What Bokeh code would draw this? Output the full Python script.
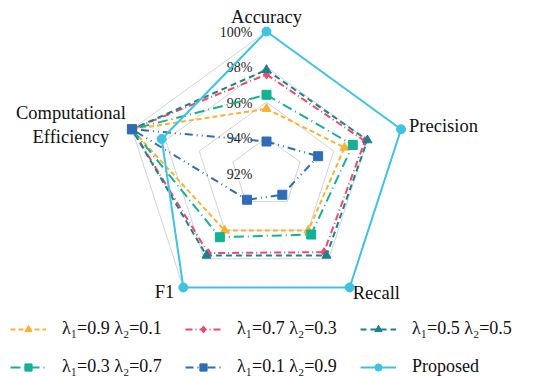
import numpy as np
from bokeh.plotting import figure
from bokeh.models import Range1d, Legend, LegendItem
from bokeh.core.properties import value
from bokeh.embed import file_html
from bokeh.resources import INLINE

# ---------------- data ----------------
categories = ["Accuracy", "Precision", "Recall", "F1", "Computational\nEfficiency"]
tick_values = [92, 94, 96, 98, 100]
tick_labels = ["92%", "94%", "96%", "98%", "100%"]

series_names = ["λ₁=0.9 λ₂=0.1", "λ₁=0.7 λ₂=0.3", "λ₁=0.5 λ₂=0.5",
                "λ₁=0.3 λ₂=0.7", "λ₁=0.1 λ₂=0.9", "Proposed"]
s_09 = [95.63, 96.64, 96.02, 96.02, 100.0]
s_07 = [97.57, 97.85, 97.53, 97.60, 100.0]
s_05 = [97.83, 98.00, 97.77, 97.77, 100.0]
s_03 = [96.42, 97.13, 96.30, 96.49, 100.0]
s_01 = [93.78, 95.07, 93.52, 93.87, 100.0]
s_prop = [100.0, 100.0, 100.0, 100.0, 98.23]
series_values = [s_09, s_07, s_05, s_03, s_01, s_prop]

# ---------------- styles ----------------
colors = ["#FBB234", "#EE4A6A", "#1B8191", "#15B195", "#2F6DB5", "#3EC3E1"]
dashes = ["5 3", "7 3 1 3", "6 4", "10 4 1 4", "8 4 1 4 1 4", "solid"]
markers = ["triangle", "diamond", "triangle", "square", "square", "circle"]
msizes = [9, 9, 9, 9, 9, 9]
FONT = "Liberation Serif"

W, H = 533, 377
cx, cy, R = 266, 172.5, 141.5
rmin, rmax = tick_values[0], tick_values[-1]

p = figure(width=W, height=H,
           x_range=Range1d(-cx / R, (W - cx) / R),
           y_range=Range1d(-(H - cy) / R, cy / R),
           x_axis_location=None, y_axis_location=None,
           output_backend="svg", toolbar_location=None, min_border=0)
p.grid.visible = False
p.outline_line_color = None
p.background_fill_color = "white"

n = len(categories)
ang = np.deg2rad(90 - 360.0 / n * np.arange(n))


def to_xy(vals, close=False):
    r = (np.asarray(vals, dtype=float) - rmin) / (rmax - rmin)
    x, y = r * np.cos(ang), r * np.sin(ang)
    if close:
        x, y = np.append(x, x[0]), np.append(y, y[0])
    return x, y


# grid rings
for t in tick_values[1:]:
    gx, gy = to_xy([t] * n, close=True)
    p.line(gx, gy, line_color="#D4D4D4", line_width=1)

# tick labels
p.text(x=[0] * len(tick_values),
       y=[(t - rmin) / (rmax - rmin) for t in tick_values],
       text=tick_labels, text_align="right", text_baseline="middle",
       x_offset=-14, y_offset=1,
       text_font=value(FONT), text_font_size="14px", text_color="#222222")

# category labels
lx, ly = to_xy([rmax] * n)
lab_style = [  # (align, baseline, x_offset, y_offset)
    ("center", "alphabetic", 0, -15),
    ("left", "middle", 8, -3),
    ("left", "middle", 3, 6),
    ("right", "middle", -9, 5),
    ("center", "middle", -61, -4),
]
for i, cat in enumerate(categories):
    a, b, xo, yo = lab_style[i]
    p.text(x=[lx[i]], y=[ly[i]], text=[cat], text_align=a, text_baseline=b,
           x_offset=xo, y_offset=yo, text_line_height=1.22,
           text_font=value(FONT), text_font_size="18.5px", text_color="#111111")

# series
items = []
for name, vals, c, d, m, s in zip(series_names, series_values, colors, dashes, markers, msizes):
    x, y = to_xy(vals, close=True)
    lr = p.line(x, y, line_color=c, line_width=2, line_dash=d)
    mx, my = to_xy(vals)
    sr = p.scatter(mx, my, marker=m, size=s, fill_color=c, line_color=c)
    items.append(LegendItem(label=name, renderers=[lr, sr]))

legend = Legend(items=items, orientation="horizontal", ncols=3,
                location=(10, 0), glyph_width=36, glyph_height=18,
                label_height=18, label_width=106, label_standoff=16, spacing=17,
                padding=0, margin=0, border_line_alpha=0,
                background_fill_alpha=0,
                label_text_font=FONT, label_text_font_size="18px",
                label_text_color="#111111")
p.add_layout(legend, "center")

open("out.html", "w").write(file_html(p, INLINE))
